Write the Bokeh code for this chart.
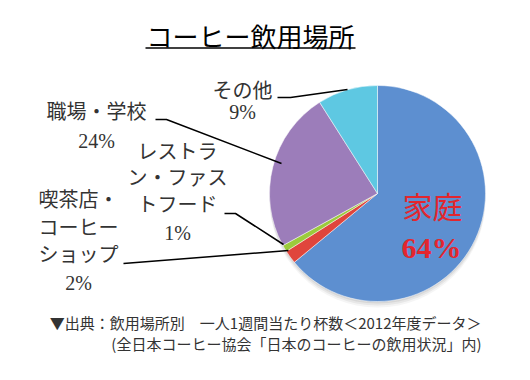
import math
from bokeh.plotting import figure
from bokeh.models import Range1d, ColumnDataSource
from bokeh.core.properties import value
from bokeh.embed import file_html
from bokeh.resources import INLINE

# ---- data ----
title_text = "コーヒー飲用場所"
categories = ["家庭", "喫茶店・コーヒーショップ", "レストラン・ファストフード", "職場・学校", "その他"]
shares = [64, 2, 1, 24, 9]
label_lines = [["家庭"], ["喫茶店・", "コーヒー", "ショップ"], ["レストラ", "ン・ファス", "トフード"], ["職場・学校"], ["その他"]]
source_lines = ["▼出典：飲用場所別　一人1週間当たり杯数＜2012年度データ＞",
                "(全日本コーヒー協会「日本のコーヒーの飲用状況」内)"]

# ---- styles ----
colors = ["#5d8fd0", "#e0453c", "#9bcb3c", "#9c7dba", "#5ec8e2"]
JP = value("Noto Sans CJK JP")
SERIF = value("Liberation Serif")

W, H = 514, 364
p = figure(width=W, height=H, x_range=Range1d(0, 514), y_range=Range1d(16, 380),
           output_backend="svg", toolbar_location=None, min_border=0)
p.axis.visible = False
p.grid.visible = False
p.outline_line_color = None
p.background_fill_color = "white"
p.border_fill_color = "white"


def Y(y):
    return 380 - y


# pie geometry
cx, cy, r = 377, Y(193), 108

# soft shadow
for dy, a in [(6, 0.08), (4, 0.12), (2, 0.15)]:
    p.circle(x=[cx], y=[cy - dy], radius=r, fill_color="#808080", fill_alpha=a, line_color=None)

total = float(sum(shares))
starts, ends = [], []
acc = 0.0
for v in shares:
    starts.append(math.pi / 2 - 2 * math.pi * acc / total)
    acc += v
    ends.append(math.pi / 2 - 2 * math.pi * acc / total)

src = ColumnDataSource(dict(x=[cx] * len(shares), y=[cy] * len(shares), start=starts, end=ends,
                            color=colors, cat=categories))
p.wedge(x="x", y="y", radius=r, start_angle="start", end_angle="end", direction="clock",
        fill_color="color", line_color="white", line_width=0.5, source=src)

# title
p.text(x=[250], y=[Y(35)], text=[title_text], text_font=JP, text_font_size="26px",
       text_align="center", text_baseline="middle", text_color="black")
p.line(x=[145, 355], y=[Y(47.5), Y(47.5)], line_color="black", line_width=1.5)

# 家庭 label inside
p.text(x=[432], y=[Y(204)], text=[label_lines[0][0]], text_font=JP, text_font_size="30px",
       text_align="center", text_baseline="middle", text_color="#e3262e")
p.text(x=[431], y=[Y(247)], text=[f"{shares[0]}%"], text_font=SERIF, text_font_size="30px",
       text_font_style="bold", text_align="center", text_baseline="middle", text_color="#e3262e")

lab_color = "#333333"


def label(xc, ys, lines, pct, pct_y):
    p.text(x=[xc] * len(lines), y=[Y(v) for v in ys], text=lines, text_font=JP,
           text_font_size="20px", text_align="center", text_baseline="middle", text_color=lab_color)
    p.text(x=[xc], y=[Y(pct_y)], text=[f"{pct}%"], text_font=SERIF, text_font_size="20px",
           text_align="center", text_baseline="middle", text_color=lab_color)


label(242, [89], label_lines[4], shares[4], 111)
label(96, [110], label_lines[3], shares[3], 140)
label(177, [150, 176, 203], label_lines[2], shares[2], 232)
label(78, [198, 226, 253], label_lines[1], shares[1], 282)

# leader lines
leaders_x = [[277, 290, 347], [155, 166, 281], [224, 235, 283], [123, 288]]
leaders_y = [[97, 97, 89], [119, 119, 163], [213, 213, 244], [263, 250]]
p.multi_line(xs=leaders_x, ys=[[Y(v) for v in ys] for ys in leaders_y],
             line_color="black", line_width=1.5)

# source note
p.text(x=[481, 481], y=[Y(322), Y(343)], text=source_lines, text_font=JP, text_font_size="15px",
       text_align="right", text_baseline="middle", text_color="#333333")

open("out.html", "w").write(file_html(p, INLINE))
